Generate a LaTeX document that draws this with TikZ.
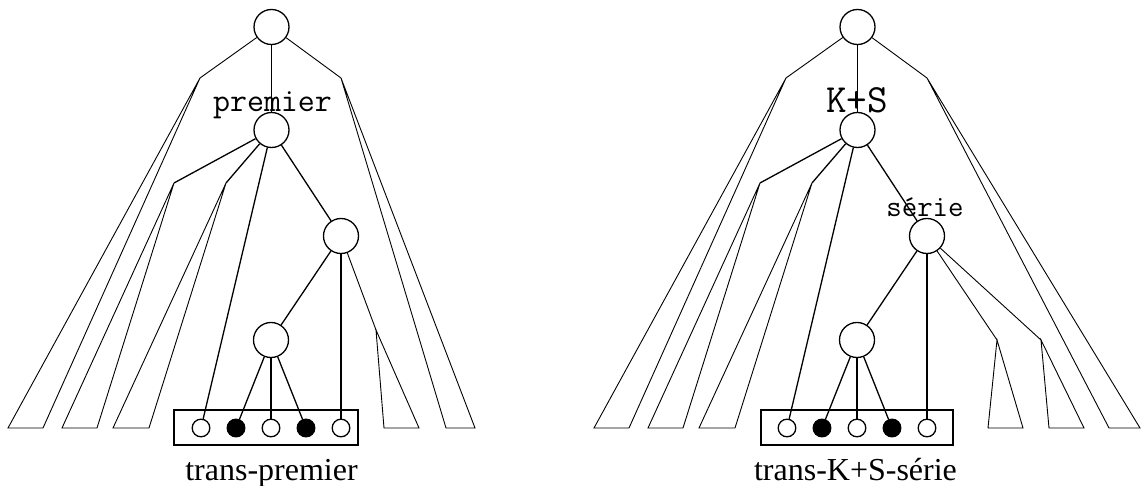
\documentclass[tikz,border=0pt]{standalone}
\usepackage{fontspec}
\setmainfont{Liberation Serif}
\begin{document}
\begin{tikzpicture}[
  x=0.5pt, y=-0.5pt,
  edge/.style={line width=0.65pt},
  subtree/.style={line width=0.45pt},
  inner/.style={circle, draw, line width=0.65pt, minimum size=17.5pt, inner sep=0pt},
  leaf/.style={circle, draw, line width=0.65pt, minimum size=8.8pt, inner sep=0pt},
  marked/.style={leaf, fill=black},
  wordbox/.style={draw, line width=0.65pt},
  tag/.style={anchor=base, inner sep=0pt},
  caption/.style={anchor=base, inner sep=0pt, font=\fontsize{16}{19}\selectfont}
]
  \useasboundingbox (0,0) rectangle (1141,486);

  % Left tree: trans-premier
  \node[inner] (rootL) at (271.5,27) {};
  \node[inner] (prem) at (271.5,130) {};
  \node[inner] (nL1) at (341,236) {};
  \node[inner] (nL2) at (271,340) {};
  \coordinate (bL1) at (200,78);
  \coordinate (bL2) at (174,183);
  \coordinate (bL3) at (226,183);
  \coordinate (bL4) at (341,78);
  \coordinate (bL5) at (376,330);

  % word box with its leaves
  \draw[wordbox] (174,410) rectangle (358,445);
  \foreach \x/\s [count=\i] in {201/leaf, 236/marked, 271/leaf, 306/marked, 341/leaf}
    \node[\s] (wL\i) at (\x,428) {};

  % subtrees drawn as triangles
  \draw[subtree] (bL1) -- (8,428) -- (43,428) -- cycle;
  \draw[subtree] (bL2) -- (62,428) -- (97,428) -- cycle;
  \draw[subtree] (bL3) -- (113,428) -- (149,428) -- cycle;
  \draw[subtree] (bL4) -- (446,428) -- (475,428) -- cycle;
  \draw[subtree] (bL5) -- (384,428) -- (419,428) -- cycle;

  \draw[subtree] (rootL) -- (bL1);
  \draw[subtree] (rootL) -- (bL4);
  \draw[edge] (rootL) -- (prem);
  \draw[edge] (prem) -- (bL2);
  \draw[edge] (prem) -- (bL3);
  \draw[edge] (prem) -- (wL1);
  \draw[edge] (prem) -- (nL1);
  \draw[edge] (nL1) -- (nL2);
  \draw[edge] (nL1) -- (wL5);
  \draw[subtree] (nL1) -- (bL5);
  \foreach \i in {2,3,4}
    \draw[edge] (nL2) -- (wL\i);

  \node[tag, font=\ttfamily\fontsize{16.5}{18}\selectfont] (premLab) at (272.5,112) {premier};
  \node[caption] (capL) at (271.5,480) {trans-premier};

  % Right tree: trans-K+S-serie
  \node[inner] (rootR) at (857.5,27) {};
  \node[inner] (ks) at (857.5,130) {};
  \node[inner] (serie) at (927,236) {};
  \node[inner] (nR2) at (857,340) {};
  \coordinate (bR1) at (786,78);
  \coordinate (bR2) at (760,183);
  \coordinate (bR3) at (812,183);
  \coordinate (bR4) at (927,78);
  \coordinate (bR5) at (997,340);
  \coordinate (bR6) at (1041,340);

  \draw[wordbox] (761,410) rectangle (953,445);
  \foreach \x/\s [count=\i] in {787/leaf, 822/marked, 857/leaf, 892/marked, 927/leaf}
    \node[\s] (wR\i) at (\x,428) {};

  \draw[subtree] (bR1) -- (594,428) -- (629,428) -- cycle;
  \draw[subtree] (bR2) -- (648,428) -- (683,428) -- cycle;
  \draw[subtree] (bR3) -- (699,428) -- (735,428) -- cycle;
  \draw[subtree] (bR4) -- (1109,428) -- (1140,428) -- cycle;
  \draw[subtree] (bR5) -- (988,428) -- (1023,428) -- cycle;
  \draw[subtree] (bR6) -- (1049,428) -- (1084,428) -- cycle;

  \draw[subtree] (rootR) -- (bR1);
  \draw[subtree] (rootR) -- (bR4);
  \draw[edge] (rootR) -- (ks);
  \draw[edge] (ks) -- (bR2);
  \draw[edge] (ks) -- (bR3);
  \draw[edge] (ks) -- (wR1);
  \draw[edge] (ks) -- (serie);
  \draw[edge] (serie) -- (nR2);
  \draw[edge] (serie) -- (wR5);
  \draw[subtree] (serie) -- (bR5);
  \draw[subtree] (serie) -- (bR6);
  \foreach \i in {2,3,4}
    \draw[edge] (nR2) -- (wR\i);

  \node[tag, font=\ttfamily\fontsize{20}{22}\selectfont] (ksLab) at (857,113) {K+S};
  \node[tag, font=\ttfamily\fontsize{15}{17}\selectfont] (serieLab) at (925,217) {série};
  \node[caption] (capR) at (855.5,480) {trans-K+S-série};

\end{tikzpicture}
\end{document}
